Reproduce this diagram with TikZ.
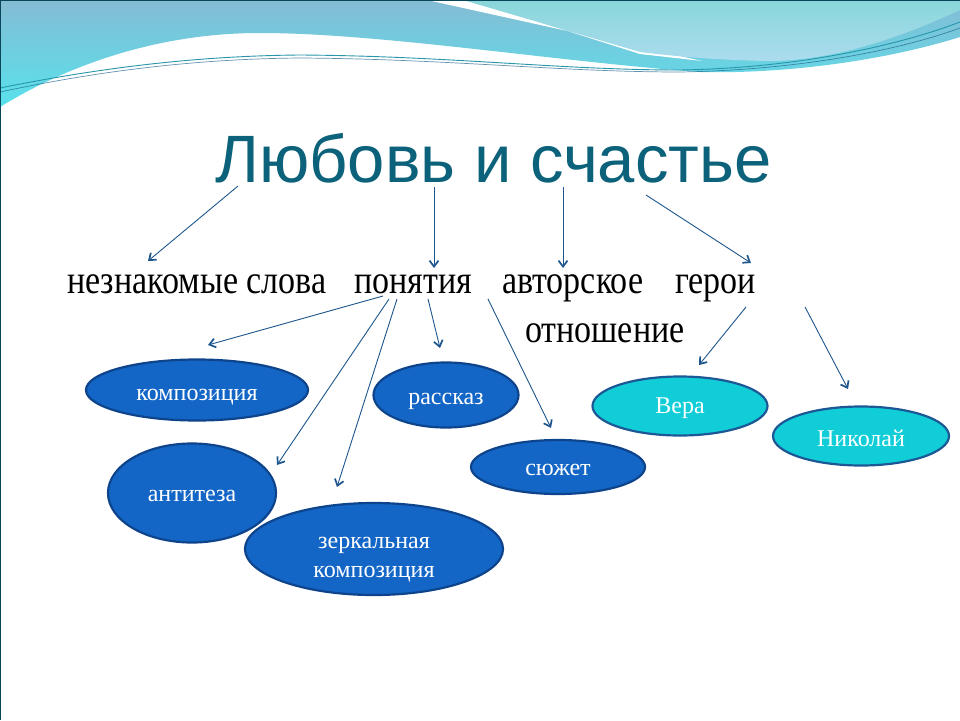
\documentclass[tikz,border=0pt]{standalone}
\usepackage{fontspec}
\setmainfont{Liberation Serif}
\newfontfamily\titlefont{Liberation Sans}
\usetikzlibrary{shapes.geometric,arrows.meta}
\definecolor{titlecol}{RGB}{11,98,122}
\definecolor{arrcol}{RGB}{30,85,140}
\definecolor{bluefill}{RGB}{20,102,198}
\definecolor{blueedge}{RGB}{14,68,140}
\definecolor{cyanfill}{RGB}{16,205,216}
\definecolor{cyanedge}{RGB}{28,88,150}
\definecolor{bandtop}{RGB}{132,188,212}
\definecolor{bandbot}{RGB}{88,226,236}
\definecolor{lighttop}{RGB}{136,214,218}
\definecolor{lightbot}{RGB}{172,220,238}
\definecolor{waveA}{RGB}{40,150,170}
\definecolor{waveB}{RGB}{30,100,140}
\definecolor{framecol}{RGB}{10,70,90}
\newcommand\lowertext[2]{\raisebox{#1}[\height][\depth]{#2}}
\begin{document}
\begin{tikzpicture}[x=1pt,y=-1pt,
 conn/.style={draw=arrcol, line width=0.9pt, -{Straight Barb[length=6pt,width=9pt,line width=1.7pt]}},
 ovalblue/.style={ellipse, draw=blueedge, line width=2.2pt, fill=bluefill, text=white, inner sep=0pt, font=\fontsize{24}{29}\selectfont},
 ovalcyan/.style={ellipse, draw=cyanedge, line width=2.2pt, fill=cyanfill, text=white, inner sep=0pt, font=\fontsize{24}{29}\selectfont},
 word/.style={anchor=base west, inner sep=0pt, font=\fontsize{40}{48}\selectfont, text=black}]
\useasboundingbox (0,0) rectangle (960,720);
\fill[white] (0,0) rectangle (960,720);
% top wave band
\shade[top color=bandtop, bottom color=bandbot] (0,0) -- (960,0) -- (960,37)
  .. controls (880,62) and (780,74) .. (700,72)
  .. controls (560,62) and (380,33) .. (260,33)
  .. controls (150,33) and (60,70) .. (0,107) -- cycle;
\fill[white] (427,0) -- (640,47) -- (702,61) -- (640,54) -- (470,0) -- cycle;
\shade[top color=lighttop, bottom color=lightbot] (463,0) -- (960,0) -- (960,10)
  .. controls (900,38) and (830,62) .. (765,61)
  .. controls (720,60) and (680,57) .. (640,52) -- cycle;
\draw[waveA, line width=0.9pt] (0,88) .. controls (80,72) and (180,56) .. (300,55)
  .. controls (450,56) and (560,70) .. (680,70) .. controls (800,68) and (900,45) .. (960,22);
\draw[waveB, line width=0.7pt, opacity=0.7] (0,92) .. controls (80,75) and (180,59) .. (300,58)
  .. controls (450,59) and (560,72) .. (680,72) .. controls (800,70) and (900,50) .. (960,28);
\draw[framecol, line width=1.5pt] (0,720) -- (0,0) -- (960,0);
% title
\node[anchor=base west, inner sep=0pt, text=titlecol, font=\titlefont\fontsize{67}{80}\selectfont] (title) at (215,182) {Любовь и счастье};
% words
\node[word] (w1) at (67,293) {\scalebox{0.85}[1]{незнакомые слова}};
\node[word] (w2) at (354,293) {\scalebox{0.85}[1]{понятия}};
\node[word] (w3) at (502,293) {\scalebox{0.85}[1]{авторское}};
\node[word] (w4) at (675,293) {\scalebox{0.85}[1]{герои}};
\node[word] (w5) at (525,342) {\scalebox{0.85}[1]{отношение}};
% ovals
\node[ovalblue, minimum width=222pt, minimum height=61pt] (komp) at (197,390) {\lowertext{-7pt}{композиция}};
\node[ovalblue, minimum width=145pt, minimum height=65pt] (rass) at (446,395) {\lowertext{-6pt}{рассказ}};
\node[ovalblue, minimum width=174pt, minimum height=54pt] (sjuz) at (558,467) {\lowertext{-3pt}{сюжет}};
\node[ovalblue, minimum width=168pt, minimum height=99pt] (anti) at (192,493) {\lowertext{-3pt}{антитеза}};
\node[ovalblue, minimum width=258pt, minimum height=92pt] (zerk) at (374,549) {\lowertext{-8pt}{\begin{tabular}{@{}c@{}}зеркальная\\композиция\end{tabular}}};
\node[ovalcyan, minimum width=175pt, minimum height=59pt] (vera) at (680,406) {\lowertext{-2pt}{Вера}};
\node[ovalcyan, minimum width=176pt, minimum height=59pt] (niko) at (861,436) {\lowertext{-2pt}{Николай}};
% arrow ends
\coordinate (s1) at (238,186); \coordinate (e1) at (148,261);
\coordinate (s2) at (434,187); \coordinate (e2) at (434,268);
\coordinate (s3) at (563,187); \coordinate (e3) at (563,268);
\coordinate (s4) at (646,195); \coordinate (e4) at (751,263);
\coordinate (s5) at (383,296); \coordinate (e5) at (208,345);
\coordinate (s6) at (389,299); \coordinate (e6) at (277,465);
\coordinate (s7) at (397,299); \coordinate (e7) at (337,487);
\coordinate (s8) at (428,299); \coordinate (e8) at (440,348);
\coordinate (s9) at (488,299); \coordinate (e9) at (551,428);
\coordinate (s10) at (746,307); \coordinate (e10) at (699,365);
\coordinate (s11) at (805,307); \coordinate (e11) at (848,389);
\foreach \i in {1,...,11} \draw[conn] (s\i) -- (e\i);
\end{tikzpicture}
\end{document}
